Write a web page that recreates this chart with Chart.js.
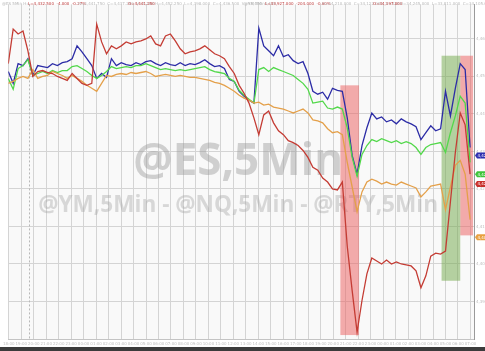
<!DOCTYPE html>
<html><head><meta charset="utf-8">
<script src="https://cdn.jsdelivr.net/npm/chart.js@4.4.0/dist/chart.umd.min.js"></script>
<style>html,body{margin:0;padding:0;background:#fff;overflow:hidden}#wrap{position:relative;width:485px;height:351px}</style>
</head><body><div id="wrap"><canvas id="c" width="485" height="351"></canvas></div>
<script>
// 5-minute session bars (sampled), relative level of each future (chart units)
const bars = Array.from({length: 95}, (_, i) => i);
const nq = [271,259,279,277,284,267,277,276,275,279,277,280,281,284,297,291,284,277,264,269,
  265,284,277,280,278,277,280,278,281,282,279,277,280,278,277,280,277,279,278,280,
  283,279,276,277,274,263,261,251,246,242,239,315,297,292,287,297,286,288,282,279,
  281,269,251,248,250,243,254,252,251,224,186,167,196,214,229,223,225,220,222,218,
  223,220,218,215,202,209,216,211,213,251,226,254,279,273,194];
const es = [264,253,274,277,283,267,269,271,269,272,270,272,272,276,277,274,271,267,264,267,
  271,276,274,275,276,275,277,277,279,277,275,273,274,273,272,273,272,273,274,275,
  276,273,271,270,269,264,261,252,247,243,239,273,275,271,275,273,271,269,267,263,
  259,253,239,240,241,234,233,235,233,214,184,165,187,196,202,200,203,201,199,201,
  198,200,198,194,187,194,197,198,199,189,209,226,246,239,179];
const ym = [259,261,264,266,264,273,264,266,267,271,269,267,264,267,264,261,257,254,251,259,
  267,266,268,269,268,270,269,270,271,269,266,267,268,267,266,267,266,265,265,264,
  263,262,260,259,257,254,251,247,244,242,239,240,237,238,235,234,233,231,229,231,
  233,229,222,221,219,213,209,210,207,179,154,129,149,159,162,160,157,159,157,156,
  159,157,155,153,144,149,155,156,157,131,154,176,181,167,121];
const rty = [279,314,309,312,292,266,271,272,270,269,266,264,262,269,264,259,257,259,319,301,
  289,297,294,297,301,299,301,302,304,307,299,297,307,309,302,294,289,291,292,294,
  297,293,289,287,284,276,269,257,249,239,224,207,227,231,219,211,207,201,199,196,
  191,184,174,171,163,159,152,151,159,94,49,7,39,66,82,79,76,80,76,78,
  76,75,74,69,52,64,84,87,86,89,139,189,229,217,167];
// shaded sell / buy windows: [startBar, endBar, low, high]
const redZones = [[67.6, 71.4, 4, 257], [92.0, 94.6, 105, 287]];
const greenZones = [[88.2, 92.0, 59, 287]];
const sessionBreak = 4.2;
// last-value tags on the right axis
const tagValues = [186, 167, 157, 103];
const tagColors = ['#2f2fb0', '#3fc43a', '#c8302c', '#e8a040'];
const gridStep = 2.54;
const yTicks = [38, 76, 114, 152, 190, 228, 266, 304];
const hourLabels = ['18:00','19:00','20:00','21:00','22:00','23:00','00:00','01:00','02:00','03:00','04:00','05:00','06:00','07:00','08:00','09:00','10:00','11:00','12:00','13:00','14:00','15:00','16:00','17:00','18:00','19:00','20:00','21:00','22:00','23:00','00:00','01:00','02:00','03:00','04:00','05:00','06:00','07:00'];
const toPrice = v => (4380 + v / 38 * 10);
const fmt = p => p.toLocaleString('en-US', {minimumFractionDigits: 2, maximumFractionDigits: 2});

const bgPlugin = {
  id: 'bg',
  beforeDraw(chart) {
    const {ctx, chartArea: a} = chart;
    ctx.save();
    ctx.fillStyle = '#ffffff';
    ctx.fillRect(0, 0, chart.width, chart.height);
    ctx.fillStyle = '#f9f9f9';
    ctx.fillRect(a.left, a.top, a.right - a.left, a.bottom - a.top);
    ctx.restore();
  },
  afterDraw(chart) {
    const {ctx} = chart;
    ctx.save();
    ctx.fillStyle = '#3b3b3b';
    ctx.fillRect(0, chart.height - 4, chart.width, 4);
    ctx.restore();
  }
};

const shadePlugin = {
  id: 'shade',
  beforeDatasetsDraw(chart) {
    const {ctx, scales: {x, y}, chartArea: a} = chart;
    ctx.save();
    const sx = x.getPixelForValue(sessionBreak);
    ctx.strokeStyle = '#b8b8b8';
    ctx.setLineDash([2, 2]);
    ctx.lineWidth = 1;
    ctx.beginPath(); ctx.moveTo(Math.round(sx) + 0.5, a.top); ctx.lineTo(Math.round(sx) + 0.5, a.bottom); ctx.stroke();
    ctx.setLineDash([]);
    ctx.textAlign = 'center';
    ctx.textBaseline = 'alphabetic';
    const cx = (a.left + a.right) / 2 - 3;
    let t1 = '@ES,5Min';
    ctx.font = 'bold 40px "Open Sans"';
    let w = ctx.measureText(t1).width;
    let fs = 40 * 210 / w;
    ctx.font = 'bold ' + fs.toFixed(1) + 'px "Open Sans"';
    ctx.fillStyle = 'rgba(150,150,150,0.42)';
    ctx.fillText(t1, cx, y.getPixelForValue(166));
    let t2 = '@YM,5Min - @NQ,5Min - @RTY,5Min';
    ctx.font = 'bold 20px "Open Sans"';
    w = ctx.measureText(t2).width;
    fs = 20 * 400 / w;
    ctx.font = 'bold ' + fs.toFixed(1) + 'px "Open Sans"';
    ctx.fillStyle = 'rgba(160,160,160,0.38)';
    ctx.fillText(t2, cx, y.getPixelForValue(129));
    ctx.fillStyle = 'rgba(236,92,92,0.5)';
    redZones.forEach(z => {
      const x0 = x.getPixelForValue(z[0]), x1 = x.getPixelForValue(z[1]);
      const y0 = y.getPixelForValue(z[3]), y1 = y.getPixelForValue(z[2]);
      ctx.fillRect(x0, y0, x1 - x0, y1 - y0);
    });
    ctx.fillStyle = 'rgba(112,168,72,0.5)';
    greenZones.forEach(z => {
      const x0 = x.getPixelForValue(z[0]), x1 = x.getPixelForValue(z[1]);
      const y0 = y.getPixelForValue(z[3]), y1 = y.getPixelForValue(z[2]);
      ctx.fillRect(x0, y0, x1 - x0, y1 - y0);
    });
    ctx.restore();
  }
};

const headerPlugin = {
  id: 'header',
  afterDatasetsDraw(chart) {
    const {ctx} = chart;
    ctx.save();
    ctx.font = '4px "DejaVu Sans"';
    ctx.textBaseline = 'middle';
    ctx.textAlign = 'left';
    const items = [
      [2, '@ES 5Min H=', '#b8b8b8'],
      [28, 'L=4,432.500  -4.000  -0.27%', '#c04040'],
      [78, 'H=4,441.750  C=4,437.250  V=1,288', '#bbbbbb'],
      [128, 'O=4,441.250', '#c04040'],
      [155, 'H=4,452.250  L=4,398.000  C=4,436.500  V=98,450  4,449', '#bbbbbb'],
      [244, '@YM 5Min', '#b8b8b8'],
      [265, 'L=33,927.000  -204.000  -0.60%', '#c04040'],
      [322, 'H=34,210.000  C=34,122.000  V=418', '#bbbbbb'],
      [373, 'O=34,197.000', '#c04040'],
      [400, 'H=34,245.000  L=33,811.000  C=34,105.000  V=12,804', '#bbbbbb']
    ];
    items.forEach(it => { ctx.fillStyle = it[2]; ctx.fillText(it[1], it[0], 4); });
    ctx.restore();
  },
  afterDraw(chart) {
    const {ctx, scales: {y}, chartArea: a} = chart;
    ctx.save();
    tagValues.forEach((v, i) => {
      const py = y.getPixelForValue(v);
      const x0 = a.right + 1, w = 12, h = 6;
      ctx.fillStyle = tagColors[i];
      ctx.beginPath();
      ctx.moveTo(x0, py);
      ctx.lineTo(x0 + 2, py - h / 2);
      ctx.lineTo(x0 + w, py - h / 2);
      ctx.lineTo(x0 + w, py + h / 2);
      ctx.lineTo(x0 + 2, py + h / 2);
      ctx.closePath();
      ctx.fill();
      ctx.fillStyle = '#ffffff';
      ctx.font = '4px "DejaVu Sans"';
      ctx.textBaseline = 'middle';
      ctx.fillText(fmt(toPrice(v)).slice(0, 6), x0 + 2.5, py + 0.3);
    });
    ctx.restore();
  }
};

new Chart(document.getElementById('c'), {
  type: 'line',
  data: {
    labels: bars,
    datasets: [
      {label: '@RTY', data: rty, borderColor: '#c43c34', borderWidth: 1.3, pointRadius: 0, tension: 0},
      {label: '@YM', data: ym, borderColor: '#e4a04a', borderWidth: 1.3, pointRadius: 0, tension: 0},
      {label: '@ES', data: es, borderColor: '#52d84a', borderWidth: 1.3, pointRadius: 0, tension: 0},
      {label: '@NQ', data: nq, borderColor: '#2c2ca6', borderWidth: 1.3, pointRadius: 0, tension: 0}
    ]
  },
  options: {
    responsive: false,
    animation: false,
    devicePixelRatio: 1,
    layout: {padding: 0},
    plugins: {legend: {display: false}, tooltip: {enabled: false}},
    scales: {
      x: {
        type: 'linear', min: 0, max: 94.8,
        afterBuildTicks: s => { const t = []; for (let k = 0; k * gridStep + 0.1 <= 94.8; k++) t.push({value: k * gridStep + 0.1}); s.ticks = t; },
        afterFit: s => { s.height = 12; },
        grid: {color: '#d4d4d4', drawTicks: false, lineWidth: 1},
        border: {display: true, color: '#c4c4c4'},
        ticks: {font: {size: 4, family: 'DejaVu Sans'}, color: '#c0c0c0', padding: 3, maxRotation: 0, autoSkip: false,
          callback: (v, i) => hourLabels[i] || ''}
      },
      y: {
        position: 'right', min: 0, max: 339,
        afterBuildTicks: s => { s.ticks = yTicks.map(v => ({value: v})); },
        afterFit: s => { s.width = 11; },
        grid: {color: '#d4d4d4', drawTicks: false, lineWidth: 1},
        border: {display: true, color: '#9a9a9a'},
        ticks: {font: {size: 4, family: 'DejaVu Sans'}, color: '#c0c0c0', padding: 2,
          callback: v => fmt(toPrice(v))}
      }
    }
  },
  plugins: [bgPlugin, shadePlugin, headerPlugin]
});
</script>
</body></html>
